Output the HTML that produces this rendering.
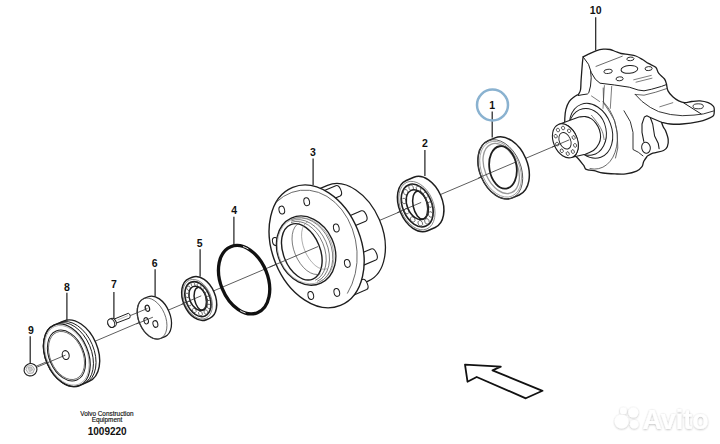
<!DOCTYPE html>
<html><head><meta charset="utf-8"><style>
html,body{margin:0;padding:0;background:#fff;}
svg{display:block;font-family:"Liberation Sans",sans-serif;}
</style></head><body>
<svg width="720" height="444" viewBox="0 0 720 444">
<defs><filter id="sh" x="-20%" y="-20%" width="140%" height="140%"><feDropShadow dx="0" dy="0.6" stdDeviation="0.9" flood-color="#000" flood-opacity="0.32"/></filter></defs>
<rect width="720" height="444" fill="#fff"/>
<line x1="35.7" y1="366.44" x2="569.4" y2="139.78" stroke="#333" stroke-width="0.8"/>
<path d="M583.1,56.9 C584.00,56.45 586.35,55.22 588.5,54.2 C590.65,53.18 593.52,51.63 596,50.8 C598.48,49.97 601.05,49.42 603.4,49.2 C605.75,48.98 608.08,49.12 610.1,49.5 C612.12,49.88 613.68,50.83 615.5,51.5 C617.32,52.17 618.75,52.98 621,53.5 C623.25,54.02 626.53,54.18 629,54.6 C631.47,55.02 633.55,55.18 635.8,56 C638.05,56.82 640.40,58.27 642.5,59.5 C644.60,60.73 646.20,62.10 648.4,63.4 C650.60,64.70 654.00,65.67 655.7,67.3 C657.40,68.93 657.13,71.25 658.6,73.2 C660.07,75.15 663.18,77.20 664.5,79 C665.82,80.80 666.17,83.17 666.5,84 C666.75,85.15 666.95,88.77 668,90.9 C669.05,93.03 671.02,95.13 672.8,96.8 C674.58,98.47 676.73,99.92 678.7,100.9 C680.67,101.88 682.43,102.60 684.6,102.7 C686.77,102.80 689.13,101.80 691.7,101.5 C694.27,101.20 697.25,100.70 700,100.9 C702.75,101.10 705.95,101.80 708.2,102.7 C710.45,103.60 712.48,105.08 713.5,106.3 C714.52,107.52 714.17,109.38 714.3,110 C714.17,110.95 714.52,114.27 713.5,115.7 C712.48,117.13 710.65,117.62 708.2,118.6 C705.75,119.58 703.13,120.70 698.8,121.6 C694.47,122.50 686.93,123.60 682.2,124 C677.47,124.40 673.85,124.28 670.4,124 C666.95,123.72 662.98,122.58 661.5,122.3 C661.80,123.08 662.63,125.62 663.3,127 C663.97,128.38 664.68,128.50 665.5,130.6 C666.32,132.70 667.90,136.90 668.2,139.6 C668.50,142.30 668.07,144.98 667.3,146.8 C666.53,148.62 666.02,149.43 663.6,150.5 C661.18,151.57 655.50,152.28 652.8,153.2 C650.10,154.12 648.30,155.53 647.4,156 C646.80,156.88 644.70,159.52 643.8,161.3 C642.90,163.08 643.20,165.05 642,166.7 C640.80,168.35 639.30,170.00 636.6,171.2 C633.90,172.40 629.40,173.45 625.8,173.9 C622.20,174.35 618.80,174.05 615,173.9 C611.20,173.75 606.50,173.55 603,173 C599.50,172.45 596.43,171.10 594,170.6 C591.57,170.10 589.33,170.10 588.4,170 C587.92,169.83 586.25,169.73 585.5,169 C584.75,168.27 584.17,166.17 583.9,165.6 C582.97,164.47 580.28,161.07 578.3,158.8 C576.32,156.53 573.80,154.97 572,152 C570.20,149.03 568.67,144.67 567.5,141 C566.33,137.33 565.45,133.78 565,130 C564.55,126.22 564.65,121.75 564.8,118.3 C564.95,114.85 565.15,112.12 565.9,109.3 C566.65,106.48 567.95,103.45 569.3,101.4 C570.65,99.35 572.50,98.15 574,97 C575.50,95.85 577.58,94.92 578.3,94.5 C578.67,93.75 580.03,92.42 580.5,90 C580.97,87.58 580.78,84.50 581.1,80 C581.42,75.50 582.07,66.85 582.4,63 C582.73,59.15 582.98,57.92 583.1,56.9 Z" fill="#fff" stroke="#1e1e1e" stroke-width="1.3" stroke-linejoin="round" stroke-linecap="round" />
<path d="M583.1,56.9 L588.5,64.3 L591.2,72.4 L595.3,79.2 L600,83.2 L614.7,85 L629.3,87.2 L638.1,90 L644,90.8 L651.3,89.3 L661.5,86.4 L666.3,84.6" fill="none" stroke="#1e1e1e" stroke-width="1.0" stroke-linejoin="round" stroke-linecap="round" />
<path d="M590.6,71.5 L591.2,77.8 L590.5,86 L588.8,92.7 L587.4,94 L582,94.8 L578.3,95.5" fill="none" stroke="#1e1e1e" stroke-width="1.0" stroke-linejoin="round" stroke-linecap="round" />
<path d="M635.2,94.4 L644,95.2 L655.7,92.2 L666.6,88.6" fill="none" stroke="#444" stroke-width="0.8" stroke-linejoin="round" stroke-linecap="round" />
<path d="M635.2,94.4 L642.1,101.5 L650.3,107.4 L658.6,111.6 L670.4,114.5 L682.2,115.7 L694,115.1 L703.5,113.9 L713.5,111" fill="none" stroke="#1e1e1e" stroke-width="0.9" stroke-linejoin="round" stroke-linecap="round" />
<path d="M683.4,102.7 L701.1,113.9" fill="none" stroke="#1e1e1e" stroke-width="1.0" stroke-linejoin="round" stroke-linecap="round" />
<path d="M659.8,106.8 L672.8,102.7" fill="none" stroke="#444" stroke-width="0.7" stroke-linejoin="round" stroke-linecap="round" />
<ellipse cx="698.2" cy="106.3" rx="5.2" ry="2.5" transform="rotate(0 698.2 106.3)" fill="none" stroke="#1e1e1e" stroke-width="0.9" />
<path d="M596,66.4 L622.3,56.2" fill="none" stroke="#444" stroke-width="0.8" stroke-linejoin="round" stroke-linecap="round" />
<path d="M633.7,79.8 L651.3,75.4 M636,82.2 L652,78.2" fill="none" stroke="#444" stroke-width="0.7" stroke-linejoin="round" stroke-linecap="round" />
<ellipse cx="608.1" cy="71.4" rx="4.2" ry="2.1" transform="rotate(-5 608.1 71.4)" fill="none" stroke="#1e1e1e" stroke-width="0.9" />
<ellipse cx="630.4" cy="58.9" rx="3.6" ry="1.8" transform="rotate(-5 630.4 58.9)" fill="none" stroke="#1e1e1e" stroke-width="0.9" />
<ellipse cx="629.4" cy="69.4" rx="8.4" ry="3.9" transform="rotate(-5 629.4 69.4)" fill="none" stroke="#1e1e1e" stroke-width="1.0" />
<ellipse cx="619.6" cy="78.8" rx="3.6" ry="2" transform="rotate(-5 619.6 78.8)" fill="none" stroke="#1e1e1e" stroke-width="0.9" />
<ellipse cx="648.6" cy="68.6" rx="3.6" ry="2" transform="rotate(-5 648.6 68.6)" fill="none" stroke="#1e1e1e" stroke-width="0.9" />
<path d="M604.4,85.6 L603,108.4 M611.7,86.4 L610.3,108.4" fill="none" stroke="#444" stroke-width="0.7" stroke-linejoin="round" stroke-linecap="round" />
<path d="M603.2,88 L603.6,102.9 L609,111 L614.5,120.4 L617.2,132.6 L617.8,148 L615.5,158" fill="none" stroke="#444" stroke-width="0.8" stroke-linejoin="round" stroke-linecap="round" />
<path d="M624,110.8 L630.3,121.6 L633,132.4 L633,149.5 L638.4,152.3 L643,155.9" fill="none" stroke="#1e1e1e" stroke-width="0.9" stroke-linejoin="round" stroke-linecap="round" />
<path d="M591.5,96 L599.6,101.5" fill="none" stroke="#444" stroke-width="0.7" stroke-linejoin="round" stroke-linecap="round" />
<path d="M661.5,122.3 L650.3,117.5 L646.8,115.7 L644.4,116.9 L642,124 L642,132.4 L643.8,141.4" fill="none" stroke="#1e1e1e" stroke-width="1.1" stroke-linejoin="round" stroke-linecap="round" />
<path d="M650.3,117.5 L652.7,124 L654.6,136 L658.2,143.2 L659.1,148.6" fill="none" stroke="#1e1e1e" stroke-width="1.1" stroke-linejoin="round" stroke-linecap="round" />
<ellipse cx="646" cy="147.7" rx="4.3" ry="5.6" transform="rotate(-10 646 147.7)" fill="#fff" stroke="#1e1e1e" stroke-width="1.0" />
<path d="M603,101.5 A26.7,38.7 -14.35 0 1 590,168.6" fill="none" stroke="#444" stroke-width="0.8" stroke-linejoin="round" stroke-linecap="round" />
<ellipse cx="591" cy="130.8" rx="20.7" ry="28.2" transform="rotate(-20.4 591 130.8)" fill="none" stroke="#1e1e1e" stroke-width="1.0" />
<ellipse cx="587.4" cy="131.9" rx="18.8" ry="23.6" transform="rotate(-11.2 587.4 131.9)" fill="none" stroke="#1e1e1e" stroke-width="1.0" />
<path d="M591.5,115.3 C592.55,116.65 596.00,120.70 597.8,123.4 C599.60,126.10 601.25,128.80 602.3,131.5 C603.35,134.20 603.80,138.25 604.1,139.6" fill="none" stroke="#444" stroke-width="0.7" stroke-linejoin="round" stroke-linecap="round" />
<path d="M558.44,124.42 L579,117 C580.08,116.93 583.42,116.28 585.5,116.6 C587.58,116.92 589.75,117.77 591.5,118.9 C593.25,120.03 594.68,121.60 596,123.4 C597.32,125.20 598.63,127.43 599.4,129.7 C600.17,131.97 600.67,134.70 600.6,137 C600.53,139.30 600.10,141.33 599,143.5 C597.90,145.67 596.28,148.20 594,150 C591.72,151.80 586.75,153.58 585.3,154.3 L572.36,157.18 A11.9,17.8 -23 0 0 558.44,124.42 Z" fill="#fff" stroke="#1e1e1e" stroke-width="1.1" stroke-linejoin="round" stroke-linecap="round" />
<ellipse cx="565.4" cy="140.8" rx="11.9" ry="17.8" transform="rotate(-23 565.4 140.8)" fill="#fff" stroke="#1e1e1e" stroke-width="1.1" />
<ellipse cx="565" cy="140.8" rx="5.6" ry="8.6" transform="rotate(-23 565 140.8)" fill="none" stroke="#1e1e1e" stroke-width="0.9" />
<ellipse cx="572.82" cy="151.56" rx="1.5" ry="1.9" transform="rotate(-23 572.82 151.56)" fill="none" stroke="#1e1e1e" stroke-width="0.7" />
<ellipse cx="575.1" cy="145.41" rx="1.5" ry="1.9" transform="rotate(-23 575.1 145.41)" fill="none" stroke="#1e1e1e" stroke-width="0.7" />
<ellipse cx="573.67" cy="137.5" rx="1.5" ry="1.9" transform="rotate(-23 573.67 137.5)" fill="none" stroke="#1e1e1e" stroke-width="0.7" />
<ellipse cx="569.08" cy="130.85" rx="1.5" ry="1.9" transform="rotate(-23 569.08 130.85)" fill="none" stroke="#1e1e1e" stroke-width="0.7" />
<ellipse cx="563.09" cy="128" rx="1.5" ry="1.9" transform="rotate(-23 563.09 128)" fill="none" stroke="#1e1e1e" stroke-width="0.7" />
<ellipse cx="557.98" cy="130.04" rx="1.5" ry="1.9" transform="rotate(-23 557.98 130.04)" fill="none" stroke="#1e1e1e" stroke-width="0.7" />
<ellipse cx="555.7" cy="136.19" rx="1.5" ry="1.9" transform="rotate(-23 555.7 136.19)" fill="none" stroke="#1e1e1e" stroke-width="0.7" />
<ellipse cx="557.13" cy="144.1" rx="1.5" ry="1.9" transform="rotate(-23 557.13 144.1)" fill="none" stroke="#1e1e1e" stroke-width="0.7" />
<ellipse cx="561.72" cy="150.75" rx="1.5" ry="1.9" transform="rotate(-23 561.72 150.75)" fill="none" stroke="#1e1e1e" stroke-width="0.7" />
<ellipse cx="567.71" cy="153.6" rx="1.5" ry="1.9" transform="rotate(-23 567.71 153.6)" fill="none" stroke="#1e1e1e" stroke-width="0.7" />
<line x1="552" y1="147.17" x2="569.4" y2="139.78" stroke="#333" stroke-width="0.8"/>
<line x1="595.7" y1="17.3" x2="595.7" y2="50.5" stroke="#1e1e1e" stroke-width="1.2"/>
<text x="595.7" y="13.5" font-size="10.5" font-weight="bold" text-anchor="middle" fill="#111">10</text>
<path d="M488.19,140.76 A20.5,31 -23 0 0 512.41,197.84 L519.22,194.94 A20.5,31 -23 0 0 495,137.87 Z" fill="#fff" stroke="#1e1e1e" stroke-width="1.5" stroke-linejoin="round"/>
<ellipse cx="500.3" cy="169.3" rx="20.5" ry="31" transform="rotate(-23 500.3 169.3)" fill="none" stroke="#444" stroke-width="0.8" />
<ellipse cx="500.6" cy="169.2" rx="19" ry="29.2" transform="rotate(-23 500.6 169.2)" fill="none" stroke="#777" stroke-width="0.6" />
<ellipse cx="501.2" cy="168.5" rx="16.3" ry="26.3" transform="rotate(-23 501.2 168.5)" fill="none" stroke="#999" stroke-width="1.3" />
<ellipse cx="503" cy="167.4" rx="13.6" ry="21.4" transform="rotate(-9 503 167.4)" fill="none" stroke="#1e1e1e" stroke-width="1.8" />
<line x1="478.3" y1="177.97" x2="515" y2="162.38" stroke="#333" stroke-width="0.8"/>
<line x1="492.2" y1="111.6" x2="492.2" y2="137.5" stroke="#1e1e1e" stroke-width="1.2"/>
<text x="492.2" y="108.9" font-size="10.5" font-weight="bold" text-anchor="middle" fill="#111">1</text>
<circle cx="492.5" cy="105" r="15.5" fill="none" stroke="#8ab2d0" stroke-width="2.5"/>
<path d="M406.23,180.47 A17.75,27.3 -23 0 0 427.57,230.73 L435.16,227.51 A17.75,27.3 -23 0 0 413.83,177.25 Z" fill="#fff" stroke="#1e1e1e" stroke-width="1.5" stroke-linejoin="round"/>
<ellipse cx="416.9" cy="205.6" rx="16.5" ry="25.39" transform="rotate(-23 416.9 205.6)" fill="none" stroke="#666" stroke-width="0.7" />
<ellipse cx="417.2" cy="205.5" rx="14.55" ry="22.39" transform="rotate(-23 417.2 205.5)" fill="none" stroke="#1e1e1e" stroke-width="1.6" />
<ellipse cx="426.95" cy="221.39" rx="2.18" ry="2.87" transform="rotate(-23 426.95 221.39)" fill="none" stroke="#444" stroke-width="0.7" />
<ellipse cx="430.63" cy="214.45" rx="2.18" ry="2.87" transform="rotate(-23 430.63 214.45)" fill="none" stroke="#444" stroke-width="0.7" />
<ellipse cx="430.14" cy="204.62" rx="2.18" ry="2.87" transform="rotate(-23 430.14 204.62)" fill="none" stroke="#444" stroke-width="0.7" />
<ellipse cx="425.64" cy="195.02" rx="2.18" ry="2.87" transform="rotate(-23 425.64 195.02)" fill="none" stroke="#444" stroke-width="0.7" />
<ellipse cx="418.55" cy="188.7" rx="2.18" ry="2.87" transform="rotate(-23 418.55 188.7)" fill="none" stroke="#444" stroke-width="0.7" />
<ellipse cx="411.13" cy="187.66" rx="2.18" ry="2.87" transform="rotate(-23 411.13 187.66)" fill="none" stroke="#444" stroke-width="0.7" />
<ellipse cx="405.73" cy="192.25" rx="2.18" ry="2.87" transform="rotate(-23 405.73 192.25)" fill="none" stroke="#444" stroke-width="0.7" />
<ellipse cx="404.07" cy="200.99" rx="2.18" ry="2.87" transform="rotate(-23 404.07 200.99)" fill="none" stroke="#444" stroke-width="0.7" />
<ellipse cx="406.67" cy="211.12" rx="2.18" ry="2.87" transform="rotate(-23 406.67 211.12)" fill="none" stroke="#444" stroke-width="0.7" />
<ellipse cx="412.71" cy="219.41" rx="2.18" ry="2.87" transform="rotate(-23 412.71 219.41)" fill="none" stroke="#444" stroke-width="0.7" />
<ellipse cx="420.27" cy="223.24" rx="2.18" ry="2.87" transform="rotate(-23 420.27 223.24)" fill="none" stroke="#444" stroke-width="0.7" />
<ellipse cx="417.3" cy="204.7" rx="10.11" ry="15.56" transform="rotate(-23 417.3 204.7)" fill="#fff" stroke="#1e1e1e" stroke-width="1.5" />
<line x1="397.24" y1="212.59" x2="421.18" y2="202.43" stroke="#333" stroke-width="0.8"/>
<ellipse cx="420.18" cy="205.05" rx="7.1" ry="14.2" transform="rotate(-12 420.18 205.05)" fill="none" stroke="#1e1e1e" stroke-width="1.5" />
<path d="M424.54,217.33 A5.46,13.1 -12 0 0 419.09,191.69" fill="none" stroke="#444" stroke-width="0.7"/>
<line x1="424.9" y1="150.1" x2="424.9" y2="176" stroke="#1e1e1e" stroke-width="1.2"/>
<text x="424.9" y="146.9" font-size="10.5" font-weight="bold" text-anchor="middle" fill="#111">2</text>
<path d="M296.18,198.63 A34.5,52 -23 0 0 336.82,294.37 L368.12,281.08 A34.5,52 -23 0 0 327.48,185.35 Z" fill="#fff" stroke="#1e1e1e" stroke-width="1.3" stroke-linejoin="round"/>
<path d="M322,191.51 A3.08,5.6 -23 0 0 326.38,201.82 L340.19,195.95 A3.08,5.6 -23 0 0 335.81,185.65 Z" fill="#fff" stroke="#1e1e1e" stroke-width="1.1" stroke-linejoin="round"/>
<path d="M347.5,216.71 A3.08,5.6 -23 0 0 351.88,227.02 L365.69,221.15 A3.08,5.6 -23 0 0 361.31,210.85 Z" fill="#fff" stroke="#1e1e1e" stroke-width="1.1" stroke-linejoin="round"/>
<path d="M357.35,254.84 A3.3,6 -23 0 0 362.04,265.88 L375.84,260.02 A3.3,6 -23 0 0 371.16,248.98 Z" fill="#fff" stroke="#1e1e1e" stroke-width="1.1" stroke-linejoin="round"/>
<path d="M348.54,285.3 A3.03,5.5 -23 0 0 352.84,295.42 L366.65,289.56 A3.03,5.5 -23 0 0 362.35,279.44 Z" fill="#fff" stroke="#1e1e1e" stroke-width="1.1" stroke-linejoin="round"/>
<ellipse cx="316.6" cy="246.4" rx="44.3" ry="63.7" transform="rotate(-22 316.6 246.4)" fill="#fff" stroke="#1e1e1e" stroke-width="1.4" />
<path d="M276.4,202 A49.27,63.09 -6.64 0 1 347.5,293.2" fill="none" stroke="#444" stroke-width="0.8" stroke-linejoin="round" stroke-linecap="round" />
<ellipse cx="281.8" cy="210.1" rx="2.8" ry="4" transform="rotate(-12 281.8 210.1)" fill="none" stroke="#1e1e1e" stroke-width="1.0" />
<ellipse cx="306.7" cy="201.7" rx="2.8" ry="4" transform="rotate(-12 306.7 201.7)" fill="none" stroke="#1e1e1e" stroke-width="1.0" />
<ellipse cx="336.3" cy="228" rx="2.8" ry="4" transform="rotate(-12 336.3 228)" fill="none" stroke="#1e1e1e" stroke-width="1.0" />
<ellipse cx="347.3" cy="263.4" rx="2.8" ry="4" transform="rotate(-12 347.3 263.4)" fill="none" stroke="#1e1e1e" stroke-width="1.0" />
<ellipse cx="336.8" cy="292.4" rx="2.8" ry="4" transform="rotate(-12 336.8 292.4)" fill="none" stroke="#1e1e1e" stroke-width="1.0" />
<ellipse cx="310.8" cy="295.5" rx="2.8" ry="4" transform="rotate(-12 310.8 295.5)" fill="none" stroke="#1e1e1e" stroke-width="1.0" />
<ellipse cx="275.3" cy="241.5" rx="2.8" ry="4" transform="rotate(-12 275.3 241.5)" fill="none" stroke="#1e1e1e" stroke-width="1.0" />
<ellipse cx="306.1" cy="250.6" rx="28.3" ry="35.7" transform="rotate(-24.5 306.1 250.6)" fill="#fff" stroke="#1e1e1e" stroke-width="1.3" />
<path d="M315.19,280.3 A21.37,31.29 -22.75 0 0 290.99,222.58" fill="none" stroke="#444" stroke-width="0.7"/>
<path d="M317.21,281.31 A23.84,32.87 -23.38 0 0 291.12,220.97" fill="none" stroke="#444" stroke-width="0.7"/>
<path d="M319.08,282.22 A26.12,34.31 -23.95 0 0 291.22,219.5" fill="none" stroke="#444" stroke-width="0.7"/>
<ellipse cx="305.6" cy="250.7" rx="27" ry="34.2" transform="rotate(-24.5 305.6 250.7)" fill="none" stroke="#888" stroke-width="0.6" />
<ellipse cx="301.8" cy="251.8" rx="18.4" ry="29.4" transform="rotate(-22 301.8 251.8)" fill="none" stroke="#1e1e1e" stroke-width="1.4" />
<path d="M299.78,222.79 A16,27.5 -22 0 0 320.38,273.79" fill="none" stroke="#444" stroke-width="0.7"/>
<path d="M307.89,221.53 A14,25.5 -22 0 0 326.99,268.81" fill="none" stroke="#777" stroke-width="0.6"/>
<line x1="269.5" y1="267.14" x2="318" y2="246.55" stroke="#333" stroke-width="0.8"/>
<line x1="313.1" y1="158.6" x2="313.1" y2="185.2" stroke="#1e1e1e" stroke-width="1.2"/>
<text x="312.8" y="156.2" font-size="10.5" font-weight="bold" text-anchor="middle" fill="#111">3</text>
<ellipse cx="244.1" cy="279.7" rx="23.6" ry="35.6" transform="rotate(-22 244.1 279.7)" fill="none" stroke="#111" stroke-width="3.3" />
<ellipse cx="244.1" cy="279.7" rx="23.6" ry="35.6" transform="rotate(-22 244.1 279.7)" fill="none" stroke="#fff" stroke-width="0.8" stroke-dasharray="0 59 6 88 6 29"/>
<line x1="233.9" y1="216.8" x2="233.9" y2="245.5" stroke="#1e1e1e" stroke-width="1.2"/>
<text x="234.2" y="213.5" font-size="10.5" font-weight="bold" text-anchor="middle" fill="#111">4</text>
<path d="M188.89,278.67 A14.5,22.3 -23 0 0 206.31,319.73 L209.63,318.32 A14.5,22.3 -23 0 0 192.2,277.27 Z" fill="#fff" stroke="#1e1e1e" stroke-width="1.5" stroke-linejoin="round"/>
<ellipse cx="197.6" cy="299.2" rx="13.48" ry="20.74" transform="rotate(-23 197.6 299.2)" fill="none" stroke="#666" stroke-width="0.7" />
<ellipse cx="197.9" cy="299.1" rx="11.89" ry="18.29" transform="rotate(-23 197.9 299.1)" fill="none" stroke="#1e1e1e" stroke-width="1.6" />
<ellipse cx="205.92" cy="312.06" rx="1.78" ry="2.34" transform="rotate(-23 205.92 312.06)" fill="none" stroke="#444" stroke-width="0.7" />
<ellipse cx="208.93" cy="306.38" rx="1.78" ry="2.34" transform="rotate(-23 208.93 306.38)" fill="none" stroke="#444" stroke-width="0.7" />
<ellipse cx="208.53" cy="298.35" rx="1.78" ry="2.34" transform="rotate(-23 208.53 298.35)" fill="none" stroke="#444" stroke-width="0.7" />
<ellipse cx="204.85" cy="290.51" rx="1.78" ry="2.34" transform="rotate(-23 204.85 290.51)" fill="none" stroke="#444" stroke-width="0.7" />
<ellipse cx="199.06" cy="285.35" rx="1.78" ry="2.34" transform="rotate(-23 199.06 285.35)" fill="none" stroke="#444" stroke-width="0.7" />
<ellipse cx="193" cy="284.5" rx="1.78" ry="2.34" transform="rotate(-23 193 284.5)" fill="none" stroke="#444" stroke-width="0.7" />
<ellipse cx="188.59" cy="288.25" rx="1.78" ry="2.34" transform="rotate(-23 188.59 288.25)" fill="none" stroke="#444" stroke-width="0.7" />
<ellipse cx="187.23" cy="295.39" rx="1.78" ry="2.34" transform="rotate(-23 187.23 295.39)" fill="none" stroke="#444" stroke-width="0.7" />
<ellipse cx="189.35" cy="303.66" rx="1.78" ry="2.34" transform="rotate(-23 189.35 303.66)" fill="none" stroke="#444" stroke-width="0.7" />
<ellipse cx="194.29" cy="310.44" rx="1.78" ry="2.34" transform="rotate(-23 194.29 310.44)" fill="none" stroke="#444" stroke-width="0.7" />
<ellipse cx="200.46" cy="313.57" rx="1.78" ry="2.34" transform="rotate(-23 200.46 313.57)" fill="none" stroke="#444" stroke-width="0.7" />
<ellipse cx="198" cy="298.3" rx="8.26" ry="12.71" transform="rotate(-23 198 298.3)" fill="#fff" stroke="#1e1e1e" stroke-width="1.5" />
<line x1="181.54" y1="304.2" x2="201.28" y2="295.82" stroke="#333" stroke-width="0.8"/>
<ellipse cx="200.28" cy="298.75" rx="5.8" ry="11.6" transform="rotate(-12 200.28 298.75)" fill="none" stroke="#1e1e1e" stroke-width="1.5" />
<path d="M203.84,308.78 A4.46,10.7 -12 0 0 199.39,287.84" fill="none" stroke="#444" stroke-width="0.7"/>
<line x1="200.1" y1="249.3" x2="200.1" y2="276.5" stroke="#1e1e1e" stroke-width="1.2"/>
<text x="199.6" y="246.9" font-size="10.5" font-weight="bold" text-anchor="middle" fill="#111">5</text>
<path d="M143.56,298.72 A13.4,21.6 -23 0 0 160.44,338.48 L165.04,336.53 A13.4,21.6 -23 0 0 148.16,296.76 Z" fill="#fff" stroke="#1e1e1e" stroke-width="1.3" stroke-linejoin="round"/>
<ellipse cx="152" cy="318.6" rx="13.4" ry="21.6" transform="rotate(-23 152 318.6)" fill="none" stroke="#444" stroke-width="0.7" />
<line x1="136.5" y1="323.93" x2="152.9" y2="317.2" stroke="#333" stroke-width="0.8"/>
<ellipse cx="147.4" cy="308.3" rx="2.1" ry="3.2" transform="rotate(-15 147.4 308.3)" fill="none" stroke="#1e1e1e" stroke-width="1.2" />
<ellipse cx="146.2" cy="320.8" rx="2.2" ry="3.2" transform="rotate(-15 146.2 320.8)" fill="none" stroke="#1e1e1e" stroke-width="1.0" />
<ellipse cx="155.4" cy="324" rx="2.4" ry="3.4" transform="rotate(-15 155.4 324)" fill="none" stroke="#1e1e1e" stroke-width="1.0" />
<line x1="155.1" y1="269.2" x2="155.1" y2="296.6" stroke="#1e1e1e" stroke-width="1.2"/>
<text x="154.6" y="266.5" font-size="10.5" font-weight="bold" text-anchor="middle" fill="#111">6</text>
<path d="M114.6,318.9 L128.3,313.3 Q131.2,314.5 129.7,318 L115.7,323.3 Z" fill="#fff" stroke="#1e1e1e" stroke-width="1.0" stroke-linejoin="round" stroke-linecap="round" />
<path d="M118,319.8 L127.5,315.8" fill="none" stroke="#888" stroke-width="0.6" stroke-linejoin="round" stroke-linecap="round" />
<path d="M109.48,319.15 A3.3,4.4 -23 0 0 112.92,327.25 L114.58,326.55 A3.3,4.4 -23 0 0 111.14,318.45 Z" fill="#fff" stroke="#1e1e1e" stroke-width="1.1" stroke-linejoin="round"/>
<ellipse cx="111.2" cy="323.2" rx="3.3" ry="4.4" transform="rotate(-23 111.2 323.2)" fill="#fff" stroke="#1e1e1e" stroke-width="1.0" />
<line x1="130.5" y1="315.5" x2="147.4" y2="308.5" stroke="#333" stroke-width="0.8"/>
<line x1="113.9" y1="292" x2="113.9" y2="318.8" stroke="#1e1e1e" stroke-width="1.2"/>
<text x="113.9" y="287.9" font-size="10.5" font-weight="bold" text-anchor="middle" fill="#111">7</text>
<path d="M53.98,325.11 A21.3,32.8 -23 0 0 79.62,385.49 L89.1,381.47 A21.3,32.8 -23 0 0 63.47,321.08 Z" fill="#fff" stroke="#1e1e1e" stroke-width="1.4" stroke-linejoin="round"/>
<path d="M82.84,384.13 A21.3,32.8 -23 0 0 57.21,323.74" fill="none" stroke="#1e1e1e" stroke-width="1.0"/>
<path d="M85.69,382.91 A21.3,32.8 -23 0 0 60.06,322.53" fill="none" stroke="#1e1e1e" stroke-width="1.0"/>
<ellipse cx="66.8" cy="355.3" rx="21.3" ry="32.8" transform="rotate(-23 66.8 355.3)" fill="none" stroke="#1e1e1e" stroke-width="1.2" />
<ellipse cx="66.9" cy="355.3" rx="20.2" ry="31.3" transform="rotate(-23 66.9 355.3)" fill="none" stroke="#888" stroke-width="0.6" />
<ellipse cx="66.5" cy="355.5" rx="17.4" ry="26.6" transform="rotate(-23 66.5 355.5)" fill="none" stroke="#1e1e1e" stroke-width="1.0" />
<ellipse cx="66.5" cy="355.5" rx="16.4" ry="25.2" transform="rotate(-23 66.5 355.5)" fill="none" stroke="#444" stroke-width="0.7" />
<line x1="36.2" y1="367.5" x2="65.5" y2="355.1" stroke="#333" stroke-width="0.8"/>
<ellipse cx="65.7" cy="355.1" rx="3.4" ry="4.5" transform="rotate(-15 65.7 355.1)" fill="none" stroke="#1e1e1e" stroke-width="1.1" />
<line x1="66.9" y1="292.8" x2="66.9" y2="320.5" stroke="#1e1e1e" stroke-width="1.2"/>
<text x="66.8" y="290.6" font-size="10.5" font-weight="bold" text-anchor="middle" fill="#111">8</text>
<ellipse cx="30.5" cy="369.7" rx="6.5" ry="6.1" transform="rotate(-30 30.5 369.7)" fill="#fff" stroke="#1e1e1e" stroke-width="1.1" />
<path d="M27.5,366 L32,365.5 L34.5,369 L33,373 L28.5,373.5 L26.2,370 Z" fill="#eee" stroke="#888" stroke-width="0.7" stroke-linejoin="round" stroke-linecap="round" />
<path d="M28.5,367.5 L31.5,367.2 L32.5,370 L30,371.5 Z" fill="#ccc" stroke="#999" stroke-width="0.6" stroke-linejoin="round" stroke-linecap="round" />
<line x1="30.2" y1="336.2" x2="30.2" y2="363.5" stroke="#1e1e1e" stroke-width="1.2"/>
<text x="30.8" y="334.1" font-size="10.5" font-weight="bold" text-anchor="middle" fill="#111">9</text>
<path d="M465,364.7 L500.8,366.7 L492.5,370.3 L542.5,390.8 L525.8,398.3 L476.7,377 L467.5,381.7 Z" fill="#fff" stroke="#111" stroke-width="1.8" stroke-linejoin="round" stroke-linecap="round" />
<text x="107" y="416.3" font-size="6.4" text-anchor="middle" fill="#111" stroke="#111" stroke-width="0.15">Volvo Construction</text>
<text x="107" y="422.3" font-size="6.4" text-anchor="middle" fill="#111" stroke="#111" stroke-width="0.15">Equipment</text>
<text x="107.2" y="434.5" font-size="10" font-weight="bold" text-anchor="middle" fill="#111">1009220</text>
<g opacity="0.9" filter="url(#sh)"><circle cx="621.6" cy="421.5" r="7" fill="#fff"/><circle cx="623.4" cy="410.9" r="3.4" fill="#fff"/><circle cx="633.3" cy="412.6" r="5" fill="#fff"/><circle cx="634.2" cy="424.2" r="4.3" fill="#fff"/><text x="642.5" y="428.6" font-size="27" font-weight="bold" fill="#fff" textLength="66" lengthAdjust="spacingAndGlyphs">Avito</text></g>
</svg></body></html>
